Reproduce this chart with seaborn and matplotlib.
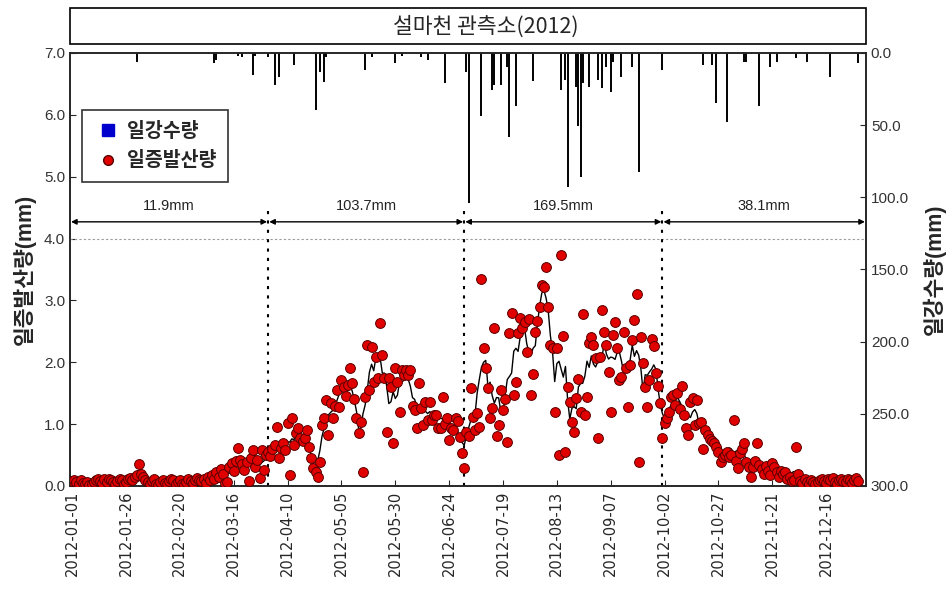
import numpy as np
import pandas as pd
import matplotlib.pyplot as plt
import seaborn as sns
from matplotlib.patches import Rectangle
from matplotlib.lines import Line2D

# daily evapotranspiration (mm), 2012, month by month
et_jan = [0.08, 0.10, 0.06, 0.04, 0.09, 0.05, 0.03, 0.06, 0.02, 0.04, 0.07, 0.10, 0.12, 0.08, 0.05, 0.11,
          0.07, 0.12, 0.10, 0.06, 0.03, 0.08, 0.12, 0.09, 0.04, 0.07, 0.11, 0.13, 0.09, 0.15, 0.18]
et_feb = [0.35, 0.20, 0.14, 0.09, 0.06, 0.03, 0.08, 0.11, 0.04, 0.02, 0.07, 0.10, 0.05, 0.03, 0.08, 0.12,
          0.09, 0.04, 0.06, 0.10, 0.03, 0.01, 0.07, 0.11, 0.08, 0.05, 0.09, 0.13, 0.10]
et_mar = [0.08, 0.12, 0.05, 0.15, 0.10, 0.18, 0.12, 0.22, 0.15, 0.28, 0.20, 0.05, 0.06, 0.30, 0.37, 0.25,
          0.40, 0.61, 0.42, 0.35, 0.26, 0.38, 0.08, 0.45, 0.58, 0.30, 0.42, 0.13, 0.58, 0.26, 0.50]
et_apr = [0.55, 0.48, 0.60, 0.66, 0.95, 0.45, 0.62, 0.70, 0.58, 1.02, 0.18, 1.10, 0.66, 0.85, 0.94, 0.78,
          0.72, 0.78, 0.90, 0.63, 0.45, 0.29, 0.23, 0.15, 0.39, 0.99, 1.10, 1.39, 0.82, 1.34]
et_may = [1.10, 1.30, 1.55, 1.28, 1.71, 1.60, 1.45, 1.63, 1.90, 1.66, 1.40, 1.10, 0.85, 1.03, 0.23, 1.44,
          2.28, 1.55, 2.25, 1.68, 2.08, 1.75, 2.63, 2.12, 1.75, 0.87, 1.75, 1.60, 0.69, 1.90, 1.68]
et_jun = [1.20, 1.87, 1.79, 1.87, 1.80, 1.87, 1.30, 1.23, 0.94, 1.66, 1.26, 0.99, 1.36, 1.07, 1.36, 1.07,
          1.15, 1.15, 0.94, 0.94, 1.44, 1.00, 1.10, 0.74, 0.94, 0.90, 1.10, 1.05, 0.79, 0.53]
et_jul = [0.29, 0.87, 0.80, 1.58, 1.12, 0.90, 1.18, 0.95, 3.34, 2.23, 1.90, 1.58, 1.10, 1.26, 2.55, 0.80,
          0.99, 1.55, 1.23, 1.40, 0.71, 2.47, 2.80, 1.47, 1.68, 2.47, 2.71, 2.55, 2.65, 2.16, 2.70]
et_aug = [1.47, 1.81, 2.49, 2.67, 2.90, 3.25, 3.22, 3.54, 2.90, 2.28, 2.23, 1.20, 2.23, 0.50, 3.73, 2.42,
          0.55, 1.60, 1.36, 1.03, 0.87, 1.42, 1.73, 1.20, 2.78, 1.15, 1.44, 2.31, 2.41, 2.28, 2.07]
et_sep = [0.78, 2.08, 2.84, 2.49, 2.28, 1.85, 1.20, 2.44, 2.65, 2.23, 1.71, 1.76, 2.49, 1.90, 1.28, 1.95,
          2.36, 2.68, 3.10, 0.39, 2.41, 1.99, 1.60, 1.28, 1.71, 2.37, 2.26, 1.83, 1.62, 1.34]
et_oct = [0.78, 1.02, 1.10, 1.20, 1.44, 1.47, 1.31, 1.50, 1.25, 1.62, 1.15, 0.94, 0.82, 1.36, 1.42, 0.99,
          1.39, 1.02, 1.03, 0.60, 0.90, 0.82, 0.76, 0.72, 0.69, 0.63, 0.55, 0.39, 0.47, 0.50, 0.55]
et_nov = [0.47, 0.50, 1.07, 0.40, 0.29, 0.53, 0.60, 0.69, 0.39, 0.30, 0.15, 0.31, 0.40, 0.69, 0.34, 0.28,
          0.20, 0.33, 0.25, 0.18, 0.37, 0.30, 0.23, 0.15, 0.25, 0.20, 0.23, 0.12, 0.15, 0.08]
et_dec = [0.10, 0.63, 0.20, 0.08, 0.05, 0.12, 0.06, 0.04, 0.09, 0.07, 0.03, 0.06, 0.10, 0.12, 0.08, 0.05,
          0.11, 0.09, 0.13, 0.07, 0.04, 0.10, 0.12, 0.08, 0.06, 0.11, 0.09, 0.05, 0.10, 0.13, 0.08]

# daily rainfall (day of year index, mm)
rain_day = [30, 66, 67, 77, 79, 84, 85, 91, 94, 96, 103, 113, 115, 117, 118, 136, 139, 150, 153, 162,
            165, 173, 183, 184, 190, 195, 196, 199, 202, 203, 206, 214, 227, 229, 230, 234, 235, 236,
            237, 240, 244, 246, 248, 250, 251, 255, 260, 263, 274, 286, 293, 297, 299, 304, 312, 313,
            319, 324, 327, 336, 341, 352, 365]
rain_mm = [6, 7, 5, 2, 3, 15, 2, 3, 22, 16.5, 8, 39.5, 13, 20, 3, 12, 3, 7, 2, 3,
           5, 21, 13, 104, 44, 26, 22, 22, 10, 58, 37, 19.5, 26, 19, 93, 23.5, 50.5, 86,
           21, 23.5, 19, 24, 10, 27, 6, 16.5, 10, 82.5, 12, 1, 8, 8, 35, 48, 6, 6,
           37, 10, 6, 3.5, 6, 16.5, 7]

# quarter boundaries (Apr 1, Jul 1, Oct 1) and quarterly totals
bounds = [91, 182, 274]
quarter_labels = ['11.9mm', '103.7mm', '169.5mm', '38.1mm']

title = '설마천 관측소(2012)'

et = et_jan + et_feb + et_mar + et_apr + et_may + et_jun + et_jul + et_aug + et_sep + et_oct + et_nov + et_dec
dates = pd.date_range('2012-01-01', periods=len(et), freq='D')
df = pd.DataFrame({'day': np.arange(len(et)), 'et': et})
df['smooth'] = df['et'].rolling(5, center=True, min_periods=1).mean()

sns.set_style('ticks')
plt.rcParams['font.family'] = ['Liberation Sans', 'Noto Sans CJK KR', 'DejaVu Sans']
kr = ['Noto Sans CJK KR', 'DejaVu Sans']

fig = plt.figure(figsize=(9.48, 5.91), dpi=100)
ax = fig.add_axes([0.0738, 0.1777, 0.8397, 0.7327])
x0, x1 = -1, 368.5

# title box
fig.patches.append(Rectangle((0.0738, 0.925), 0.8397, 0.061, transform=fig.transFigure,
                             fill=False, edgecolor='black', linewidth=1.2))
fig.text(0.512, 0.955, title, ha='center', va='center', fontsize=15.5, family=kr)

# reference lines
ax.axhline(4.0, color='#999999', linestyle=(0, (2, 2)), linewidth=0.8, zorder=1)
for b in bounds:
    ax.plot([b, b], [0, 4.45], color='black', linestyle=(0, (1.5, 3)), linewidth=1.5, zorder=1)

# arrows + quarterly totals
edges = [x0] + bounds + [x1]
for i, lab in enumerate(quarter_labels):
    a, b = edges[i], edges[i + 1]
    ax.annotate('', xy=(a + 0.5, 4.27), xytext=(b - 0.5, 4.27),
                arrowprops=dict(arrowstyle='<|-|>', color='black', lw=1.0,
                                mutation_scale=8, shrinkA=0, shrinkB=0))
    ax.text((a + b) / 2, 4.42, lab, ha='center', va='bottom', fontsize=10.5, color='#222222')

sns.lineplot(data=df, x='day', y='smooth', ax=ax, color='black', linewidth=1.0, zorder=3)
sns.scatterplot(data=df, x='day', y='et', ax=ax, color='#e00000', edgecolor='#5a0000',
                linewidth=0.7, s=50, zorder=4)

ax.set_xlim(x0, x1)
ax.set_ylim(0, 7)
ax.set_yticks(np.arange(0, 7.5, 1.0))
ax.set_yticklabels([f'{v:.1f}' for v in np.arange(0, 7.5, 1.0)], fontsize=11, color='#333333')
tick_days = list(range(0, 366, 25))
ax.set_xticks(tick_days)
ax.set_xticklabels([dates[d].strftime('%Y-%m-%d') for d in tick_days], rotation=90,
                   fontsize=10.5, family='DejaVu Sans')
ax.tick_params(direction='in', length=4)
ax.set_xlabel('')
ax.set_ylabel('일증발산량(mm)', fontsize=15.5, fontweight='bold', labelpad=6)

# rainfall, inverted secondary axis
ax2 = ax.twinx()
ax2.vlines(rain_day, 0, rain_mm, color='black', linewidth=1.4, zorder=2)
ax2.set_ylim(300, 0)
ax2.set_yticks(np.arange(0, 301, 50))
ax2.set_yticklabels([f'{v:.1f}' for v in np.arange(0, 301, 50)], fontsize=11, color='#333333')
ax2.tick_params(direction='in', length=4)
ax2.set_ylabel('일강수량(mm)', fontsize=15.5, fontweight='bold', labelpad=10)
ax2.set_xlim(x0, x1)
ax.set_zorder(ax2.get_zorder() + 1)
ax.patch.set_visible(False)

for a in (ax, ax2):
    for s in a.spines.values():
        s.set_linewidth(1.2)
        s.set_visible(True)

handles = [Line2D([], [], marker='s', color='#0000cc', linestyle='', markersize=8),
           Line2D([], [], marker='o', color='#e00000', markeredgecolor='#5a0000', linestyle='', markersize=7)]
leg = ax.legend(handles, ['일강수량', '일증발산량'], loc='upper left', bbox_to_anchor=(0.015, 0.868),
                borderaxespad=0, frameon=True, fancybox=False, edgecolor='black', handletextpad=0.2,
                handlelength=1.5, borderpad=0.6, labelspacing=0.55,
                prop={'weight': 'bold', 'size': 14, 'family': kr})
leg.get_frame().set_linewidth(1.2)

fig.savefig('out.png', dpi=100)
